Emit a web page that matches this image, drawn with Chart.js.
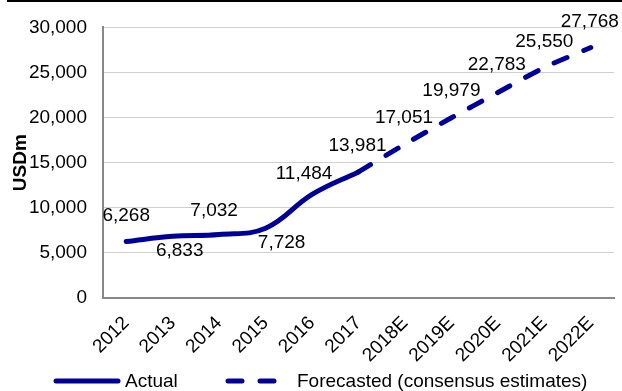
<!DOCTYPE html>
<html>
<head>
<meta charset="utf-8">
<script src="https://cdn.jsdelivr.net/npm/chart.js@4"></script>
<style>
  body { margin: 0; background: #fff; }
  #wrap { width: 622px; height: 391px; position: relative; }
</style>
</head>
<body>
<div id="wrap"><canvas id="chart"></canvas></div>
<script>
        // Data
        const categories = ['2012', '2013', '2014', '2015', '2016', '2017', '2018E', '2019E', '2020E', '2021E', '2022E'];
        const actualValues = [6268, 6833, 7032, 7728, 11484, 13981, null, null, null, null, null];
        const forecastValues = [null, null, null, null, null, 13981, 17051, 19979, 22783, 25550, 27768];
        const yTickValues = [0, 5000, 10000, 15000, 20000, 25000, 30000];

        // Placement of value labels relative to the points (dx, dy)
        const labelOffsets = [[0, -26], [7, 14], [-5, -24], [16, 14], [-8, -21], [-1, -26], [-1, -26], [0, -27], [-1, -28], [0, -26], [-1, -26]];

        const FONT = '"Liberation Sans", Arial, sans-serif';
        const NAVY = '#000099';

        // Labels with the values above/below the line
        const valueLabels = {
            id: 'valueLabels',
            afterDatasetsDraw(chart) {
                const ctx = chart.ctx;
                const xs = chart.scales.x, ys = chart.scales.y;
                ctx.save();
                ctx.font = '19px ' + FONT;
                ctx.fillStyle = '#000';
                ctx.textAlign = 'center';
                ctx.textBaseline = 'middle';
                categories.forEach((c, i) => {
                    const v = actualValues[i] !== null ? actualValues[i] : forecastValues[i];
                    if (v === null) return;
                    const [dx, dy] = labelOffsets[i];
                    ctx.fillText(v.toLocaleString('en-US'), xs.getPixelForValue(i) + dx, ys.getPixelForValue(v) + dy);
                });
                ctx.restore();
            }
        };

        // Legend with line samples (solid / dashed)
        const lineLegend = {
            id: 'lineLegend',
            afterDraw(chart) {
                const ctx = chart.ctx;
                const starts = [56, 228];
                const yMid = 381;
                ctx.save();
                chart.data.datasets.forEach((ds, i) => {
                    const x0 = starts[i];
                    ctx.beginPath();
                    ctx.setLineDash(ds.borderDash || []);
                    ctx.lineCap = 'round';
                    ctx.lineWidth = ds.borderWidth;
                    ctx.strokeStyle = ds.borderColor;
                    ctx.moveTo(x0, yMid);
                    ctx.lineTo(x0 + 62, yMid);
                    ctx.stroke();
                    ctx.setLineDash([]);
                    ctx.font = '19px ' + FONT;
                    ctx.fillStyle = '#000';
                    ctx.textAlign = 'left';
                    ctx.textBaseline = 'middle';
                    ctx.fillText(ds.label, x0 + 69, yMid + 1);
                });
                ctx.restore();
            }
        };

        // Black rule along the top edge
        const topRule = {
            id: 'topRule',
            beforeDraw(chart) {
                const ctx = chart.ctx;
                ctx.save();
                ctx.fillStyle = '#000';
                ctx.fillRect(7, 0, 615, 2);
                ctx.restore();
            }
        };

        const ctx = document.getElementById('chart').getContext('2d');
        new Chart(ctx, {
            type: 'line',
            data: {
                labels: categories,
                datasets: [{
                    label: 'Actual',
                    data: actualValues,
                    borderColor: NAVY,
                    borderWidth: 5,
                    borderCapStyle: 'round',
                    tension: 0.4,
                    pointRadius: 0,
                    fill: false
                }, {
                    label: 'Forecasted (consensus estimates)',
                    data: forecastValues,
                    borderColor: NAVY,
                    borderWidth: 5,
                    borderDash: [14, 18],
                    borderCapStyle: 'round',
                    tension: 0.3,
                    pointRadius: 0,
                    fill: false
                }]
            },
            options: {
                responsive: true,
                maintainAspectRatio: false,
                animation: false,
                layout: {
                    padding: { top: 25, right: 8, left: 0, bottom: 0 }
                },
                plugins: {
                    legend: { display: false },
                    tooltip: { enabled: false }
                },
                scales: {
                    x: {
                        offset: true,
                        grid: { display: false },
                        border: { display: true, color: '#888', width: 2 },
                        ticks: {
                            color: '#000',
                            font: { family: FONT, size: 19 },
                            minRotation: 45,
                            maxRotation: 45,
                            padding: 6
                        },
                        afterFit(s) { s.height = 93; }
                    },
                    y: {
                        min: 0,
                        max: 30000,
                        afterBuildTicks(s) { s.ticks = yTickValues.map(v => ({ value: v })); },
                        grid: { color: '#d0d0d0', lineWidth: 1, drawTicks: false },
                        border: { color: '#888', width: 2 },
                        ticks: {
                            color: '#000',
                            font: { family: FONT, size: 19 },
                            padding: 16,
                            callback: function(value) {
                                return value.toLocaleString('en-US');
                            }
                        },
                        title: {
                            display: true,
                            text: 'USDm',
                            color: '#000',
                            font: { family: FONT, size: 19, weight: 'bold' },
                            padding: { top: 9, bottom: 0 }
                        },
                        afterFit(s) { s.width = 103; }
                    }
                }
            },
            plugins: [topRule, valueLabels, lineLegend]
        });
</script>
</body>
</html>
